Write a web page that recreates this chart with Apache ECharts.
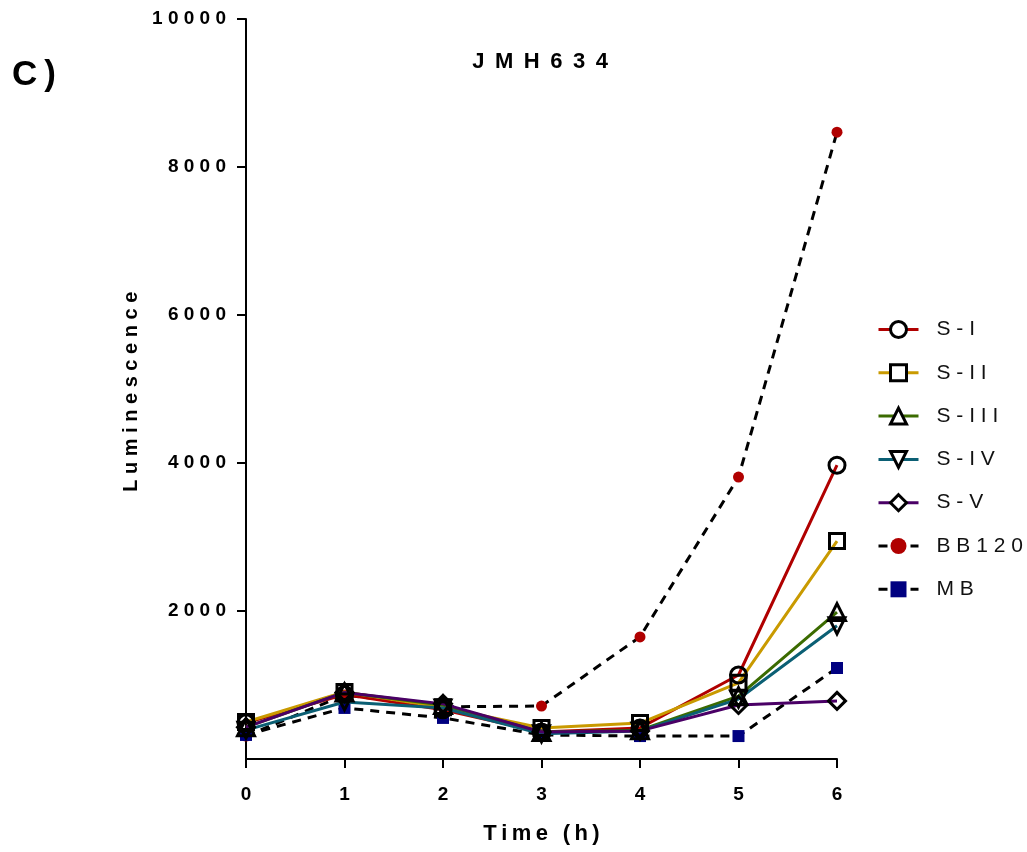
<!DOCTYPE html>
<html>
<head>
<meta charset="utf-8">
<script src="https://cdn.jsdelivr.net/npm/echarts@6/dist/echarts.min.js"></script>
<style>
  html, body { margin: 0; padding: 0; background: #fff; }
  #chart { width: 1027px; height: 852px; }
</style>
</head>
<body>
<div id="chart"></div>
<script>
// Time points (hours) and luminescence readings for each strain / control
const hours = [0, 1, 2, 3, 4, 5, 6];
const sI   = [490, 870, 665, 365, 420, 1135, 3970];
const sII  = [500, 905, 700, 420, 485, 1030, 2945];
const sIII = [430, 900, 730, 365, 390, 850, 1985];
const sIV  = [390, 770, 690, 340, 380, 810, 1800];
const sV   = [430, 900, 745, 365, 380, 730, 785];
const bb120 = [310, 865, 705, 716, 1650, 3810, 8470];
const mb    = [325, 690, 555, 325, 310, 310, 1230];
const yTicks = [0, 2000, 4000, 6000, 8000, 10000];
const seriesNames = ['S-I', 'S-II', 'S-III', 'S-IV', 'S-V', 'BB120', 'MB'];

const FONT = 'Liberation Sans, Arial, sans-serif';
// wide letter spacing, done with space characters between glyphs
const spaced = (s, gap) => s.split('').join(gap);
const SP = ' ';
const THIN = '\u2009';
const pairs = (ys) => hours.map((h, i) => [h, ys[i]]);

function strain(name, ys, color, symbol, size) {
  return {
    name, type: 'line', data: pairs(ys), z: 3,
    symbol, symbolSize: size,
    lineStyle: { color, width: 3 },
    itemStyle: { color: 'rgba(255,255,255,0)', borderColor: '#000', borderWidth: 3 },
    emphasis: { disabled: true }
  };
}
function control(name, ys, color, symbol, size) {
  return {
    name, type: 'line', data: pairs(ys), z: 2,
    symbol, symbolSize: size,
    lineStyle: { color: '#000', width: 3, type: [9, 7] },
    itemStyle: { color, borderWidth: 0 },
    emphasis: { disabled: true }
  };
}

const legendData = seriesNames.map((n, i) => (i < 5
  ? { name: n, itemStyle: { color: '#fff', borderColor: '#000', borderWidth: 3 } }
  : { name: n }));

const chart = echarts.init(document.getElementById('chart'), null, { renderer: 'canvas' });
chart.setOption({
  animation: false,
  backgroundColor: '#fff',
  grid: { left: 246, right: 190, top: 19, bottom: 93 },
  graphic: [
    { type: 'text', x: 12, y: 75, style: { text: 'C' + THIN + ')', font: 'bold 35px ' + FONT, fill: '#000', verticalAlign: 'middle' } },
    { type: 'text', x: 540, y: 62, style: { text: spaced('JMH634', SP + THIN), font: 'bold 22px ' + FONT, fill: '#000', align: 'center', verticalAlign: 'middle' } }
  ],
  legend: {
    orient: 'vertical', left: 872, top: 314,
    itemWidth: 40, itemHeight: 20, itemGap: 22.3,
    lineStyle: { width: 3 },
    textStyle: { fontFamily: FONT, fontSize: 21, color: '#111', padding: [0, 0, 0, 13] },
    formatter: (n) => spaced(n, SP),
    data: legendData
  },
  xAxis: {
    type: 'value', min: 0, max: 6, interval: 1,
    name: spaced('Time (h)', THIN), nameLocation: 'middle', nameGap: 64,
    nameTextStyle: { fontFamily: FONT, fontWeight: 'bold', fontSize: 22, color: '#000' },
    axisLine: { show: true, lineStyle: { color: '#000', width: 2 } },
    axisTick: { show: true, length: 9, lineStyle: { color: '#000', width: 2 } },
    axisLabel: { margin: 26, fontFamily: FONT, fontWeight: 'bold', fontSize: 19, color: '#000' },
    splitLine: { show: false }
  },
  yAxis: {
    type: 'value', min: yTicks[0], max: yTicks[yTicks.length - 1], interval: 2000,
    name: spaced('Luminescence', SP) + SP, nameLocation: 'middle', nameGap: 104,
    nameTextStyle: { fontFamily: FONT, fontWeight: 'bold', fontSize: 20, color: '#000' },
    axisLine: { show: true, lineStyle: { color: '#000', width: 2 } },
    axisTick: { show: true, length: 9, lineStyle: { color: '#000', width: 2 } },
    axisLabel: {
      margin: 20, fontFamily: FONT, fontWeight: 'bold', fontSize: 19, color: '#000',
      showMinLabel: false,
      formatter: (v) => spaced(String(v), SP)
    },
    splitLine: { show: false }
  },
  series: [
    control('BB120', bb120, '#b00000', 'circle', 11),
    control('MB', mb, '#000080', 'rect', 12),
    strain('S-I', sI, '#b00000', 'circle', 16),
    strain('S-II', sII, '#c99a00', 'rect', 15),
    strain('S-III', sIII, '#3b6b00', 'triangle', 17),
    strain('S-IV', sIV, '#0b5f74', 'path://M0,0 L10,0 L5,9 Z', 16),
    strain('S-V', sV, '#4a0066', 'diamond', 17)
  ]
});
</script>
</body>
</html>
